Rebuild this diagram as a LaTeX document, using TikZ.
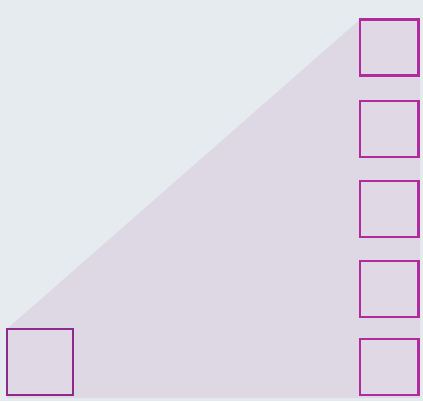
\documentclass[tikz,border=0pt]{standalone}
\usepackage{tikz}
\usetikzlibrary{positioning}
\definecolor{bgblue}{HTML}{E5EBEF}
\definecolor{lav}{HTML}{DED7E4}
\definecolor{boxfill}{HTML}{E0D8E5}
\definecolor{inpurple}{HTML}{8E2A8C}
\definecolor{outpurple}{HTML}{B02C9E}

\begin{document}
\begin{tikzpicture}[
  inbox/.style={draw=inpurple, fill=boxfill, line width=1.7pt, minimum width=1.32cm, minimum height=1.32cm, inner sep=0pt},
  outbox/.style={draw=outpurple, fill=boxfill, line width=1.7pt, minimum width=1.16cm, minimum height=1.12cm, inner sep=0pt}]
  \useasboundingbox (0,0) rectangle (8.46,8.02);
  \fill[bgblue] (0,0) rectangle (8.46,8.02);

  \coordinate (in) at (0.8,0.78);
  \coordinate (o1) at (7.78,7.07);
  \coordinate (o2) at (7.78,5.44);
  \coordinate (o3) at (7.78,3.84);
  \coordinate (o4) at (7.78,2.24);
  \coordinate (o5) at (7.78,0.68);

  % the fan
  \fill[lav] (0.14,1.44) -- (7.2,7.63) -- (8.4,7.63) -- (8.4,0.06) -- (0.14,0.06) -- cycle;

  \node[inbox] (I) at (in) {};
  \foreach \k in {1,...,5}
    \node[outbox] (O\k) at (o\k) {};
\end{tikzpicture}
\end{document}
